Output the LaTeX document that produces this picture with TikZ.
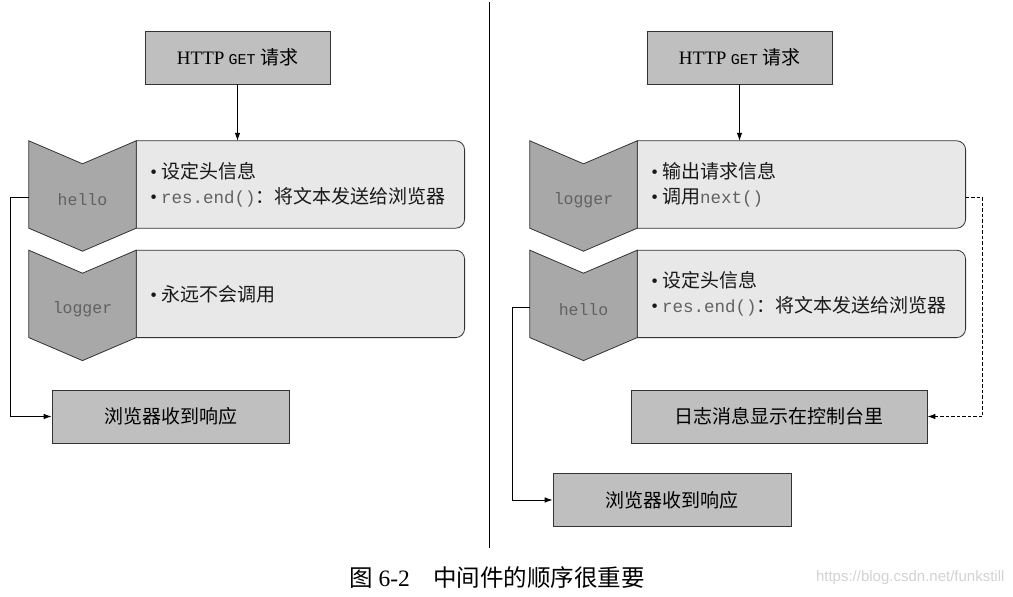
\documentclass[tikz,border=0pt]{standalone}
\usepackage{fontspec}
\setmainfont{Liberation Serif}
\setsansfont{Liberation Sans}
\setmonofont{Liberation Mono}
\newfontfamily\cjk{Noto Sans CJK SC}
\usetikzlibrary{arrows.meta,backgrounds,positioning}

\definecolor{boxgray}{gray}{0.75}
\definecolor{chevgray}{gray}{0.66}
\definecolor{infogray}{gray}{0.91}
\definecolor{codegray}{gray}{0.38}

\newcommand{\bul}{{\rmfamily\textbullet}\hspace{4pt}}
\newcommand{\code}[1]{{\ttfamily\fontsize{17.5}{25}\selectfont\color{codegray}#1}}
% chevron round an empty node
\newcommand{\chevron}[1]{%
\filldraw[fill=chevgray,draw=black!80,line width=0.8pt]
(#1.north west) -- ([yshift=-23pt]#1.north) -- (#1.north east)
-- (#1.south east) -- ([yshift=-23pt]#1.south) -- (#1.south west) -- cycle;}
% box with rounded right corners
\newcommand{\roundright}[1]{%
\filldraw[fill=infogray,draw=black!80,line width=0.8pt]
(#1.north west) -- ([xshift=-9pt]#1.north east) arc[start angle=90,end angle=0,radius=9pt]
-- ([yshift=9pt]#1.south east) arc[start angle=0,end angle=-90,radius=9pt]
-- (#1.south west) -- cycle;}

\begin{document}
\begin{tikzpicture}[x=1pt,y=-1pt,
plainbox/.style={draw=black!80,fill=boxgray,line width=0.8pt,minimum height=53pt,inner sep=0pt,font=\fontsize{19}{22}\selectfont\cjk},
chev/.style={minimum width=107pt,minimum height=87pt,inner sep=0pt},
modname/.style={font=\fontsize{16.5}{20}\selectfont\ttfamily,text=codegray},
info/.style={minimum height=87pt,inner xsep=14pt,inner ysep=0pt,text width=300pt,align=left,font=\fontsize{19}{25}\selectfont\cjk,text=black!90},
link/.style={-{Latex[length=8pt,width=5.5pt]},line width=0.8pt}]

\useasboundingbox (0,0) rectangle (1013,597);

%left: hello first
\node[plainbox,minimum width=185pt] (getA) at (237.5,57.5) {{\rmfamily HTTP} {\ttfamily\fontsize{15}{16}\selectfont GET} 请求};
\node[chev] (chA) at (82.5,184.5) {};
\node[info,right=0pt of chA] (bA1) {\bul 设定头信息\\ \bul\code{res.end()}：将文本发送给浏览器};
\node[chev,below=22pt of chA] (chA2) {};
\node[info,right=0pt of chA2] (bA2) {\bul 永远不会调用};
\node[modname] (nA1) at ([yshift=-15.5pt]chA.center) {hello};
\node[modname] (nA2) at ([yshift=-15.5pt]chA2.center) {logger};
\node[plainbox,minimum width=237pt] (resA) at (170.5,416.5) {浏览器收到响应};

%right: logger first
\node[plainbox,minimum width=185pt] (getB) at (739.5,57.5) {{\rmfamily HTTP} {\ttfamily\fontsize{15}{16}\selectfont GET} 请求};
\node[chev] (chB) at (583.5,184.5) {};
\node[info,right=0pt of chB] (bB1) {\bul 输出请求信息\\ \bul 调用\code{next()}};
\node[chev,below=22pt of chB] (chB2) {};
\node[info,right=0pt of chB2] (bB2) {\bul 设定头信息\\ \bul\code{res.end()}：将文本发送给浏览器};
\node[modname] (nB1) at ([yshift=-15.5pt]chB.center) {logger};
\node[modname] (nB2) at ([yshift=-15.5pt]chB2.center) {hello};
\node[plainbox,minimum width=296pt] (logB) at (779,416.5) {日志消息显示在控制台里};
\node[plainbox,minimum width=238pt] (resB) at (672,500) {浏览器收到响应};

\begin{scope}[on background layer]
\roundright{bA1} \roundright{bA2} \roundright{bB1} \roundright{bB2}
\chevron{chA} \chevron{chA2} \chevron{chB} \chevron{chB2}
\end{scope}

\draw[link] (getA.south) -- (getA.south |- bA1.north);
\draw[link] ([yshift=-13pt]chA.west) -- ++(-18,0) |- (resA.west);
\draw[link] (getB.south) -- (getB.south |- bB1.north);
\draw[link,line width=1pt,dash pattern=on 3.5pt off 2pt] ([yshift=-13pt]bB1.east) -- ++(17,0) |- (logB.east);
\draw[link] ([yshift=-13pt]chB2.west) -- ++(-17,0) |- (resB.west);

\draw[line width=0.8pt] (489,2) -- (489,548);

\node (caption) at (497,578) {\fontsize{23.5}{26}\selectfont{\cjk 图} 6-2\quad{\cjk 中间件的顺序很重要}};
\node[anchor=east,text=gray!35,font=\sffamily\fontsize{15}{17}\selectfont] (mark) at (1008,578) {https://blog.csdn.net/funkstill};
\end{tikzpicture}
\end{document}
